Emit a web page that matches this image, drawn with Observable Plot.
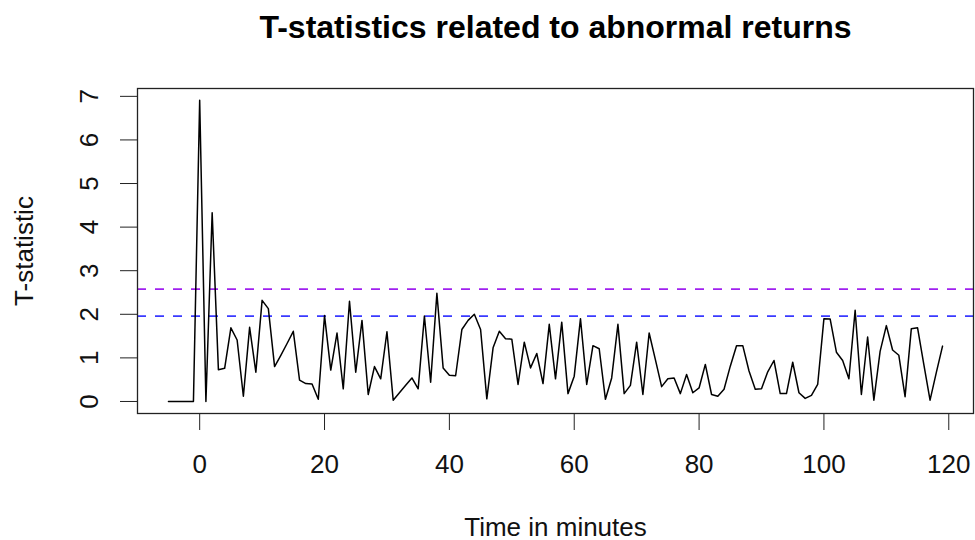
<!DOCTYPE html>
<html>
<head>
<meta charset="utf-8">
<script src="https://cdn.jsdelivr.net/npm/d3@7"></script>
<script src="https://cdn.jsdelivr.net/npm/@observablehq/plot@0.6"></script>
<style>
  html, body { margin: 0; padding: 0; background: #fff; }
</style>
</head>
<body>
<div id="chart"></div>
<script>
const minutes = d3.range(-5, 120);
const tstat = [
  0, 0, 0, 0, 0,
  6.91, 0, 4.33, 0.73, 0.76, 1.69, 1.41, 0.12, 1.70, 0.67,
  2.32, 2.13, 0.80, 1.06, 1.33, 1.61, 0.49, 0.41, 0.40, 0.05,
  1.97, 0.72, 1.57, 0.29, 2.30, 0.67, 1.86, 0.16, 0.80, 0.52,
  1.60, 0.03, 0.20, 0.37, 0.54, 0.29, 1.96, 0.44, 2.48, 0.77,
  0.60, 0.59, 1.65, 1.86, 2.00, 1.65, 0.06, 1.23, 1.61, 1.44,
  1.43, 0.39, 1.36, 0.77, 1.10, 0.41, 1.77, 0.52, 1.82, 0.18,
  0.58, 1.90, 0.39, 1.28, 1.21, 0.05, 0.54, 1.77, 0.18, 0.37,
  1.36, 0.16, 1.57, 0.96, 0.34, 0.52, 0.54, 0.18, 0.62, 0.20,
  0.31, 0.85, 0.16, 0.12, 0.28, 0.81, 1.28, 1.28, 0.70, 0.28,
  0.29, 0.68, 0.94, 0.18, 0.18, 0.90, 0.20, 0.07, 0.14, 0.39,
  1.90, 1.89, 1.13, 0.94, 0.52, 2.09, 0.16, 1.48, 0.03, 1.15,
  1.74, 1.18, 1.06, 0.11, 1.67, 1.69, 0.85, 0.03, 0.66, 1.27
];
const crit95 = [1.96];
const crit99 = [2.576];
const xTicks = [0, 20, 40, 60, 80, 100, 120];
const yTicks = [0, 1, 2, 3, 4, 5, 6, 7];
const titleText = "T-statistics related to abnormal returns";
const xLabel = "Time in minutes";
const yLabel = "T-statistic";

const chart = Plot.plot({
  width: 975,
  height: 540,
  marginTop: 88,
  marginBottom: 127,
  marginLeft: 137,
  marginRight: 2,
  x: { domain: [-9.96, 123.96], label: null },
  y: { domain: [-0.276, 7.18], label: null },
  style: {
    fontFamily: "'Liberation Sans', Arial, Helvetica, sans-serif",
    fontSize: "26px",
    color: "#111",
    background: "white",
    overflow: "visible"
  },
  marks: [
    Plot.ruleY(crit99, { y: d => d, stroke: "#a020f0", strokeWidth: 1.8, strokeDasharray: "9,9" }),
    Plot.ruleY(crit95, { y: d => d, stroke: "#3a3aff", strokeWidth: 1.8, strokeDasharray: "9,9" }),
    Plot.line(minutes, { x: d => d, y: (d, i) => tstat[i], stroke: "#000", strokeWidth: 1.5 }),
    Plot.frame({ stroke: "#222", strokeWidth: 1.3 }),
    Plot.axisX({ ticks: xTicks, tickSize: 17, tickPadding: 24, label: null, stroke: "#222" }),
    Plot.axisY({ ticks: yTicks, tickSize: 17, tickFormat: () => "", label: null, stroke: "#222" }),
    Plot.text(yTicks, { y: d => d, text: d => String(d), frameAnchor: "left", dx: -48, rotate: -90, textAnchor: "middle", lineAnchor: "middle", fill: "#111" }),
    Plot.text([yLabel], { frameAnchor: "left", dx: -113, rotate: -90, textAnchor: "middle", lineAnchor: "middle", fill: "#111" }),
    Plot.text([xLabel], { frameAnchor: "bottom", dy: 114, textAnchor: "middle", lineAnchor: "middle", fill: "#111" }),
    Plot.text([titleText], { frameAnchor: "top", dy: -61, textAnchor: "middle", lineAnchor: "middle", fontSize: 32, fontWeight: "bold", fill: "#000" })
  ]
});
document.getElementById("chart").appendChild(chart);
</script>
</body>
</html>
